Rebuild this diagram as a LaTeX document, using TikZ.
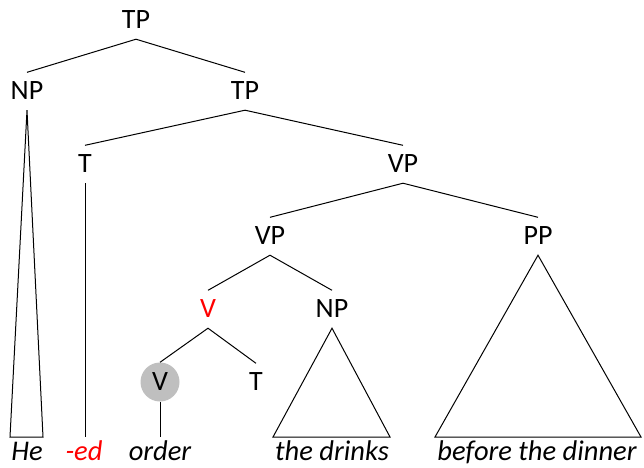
\documentclass[tikz,border=0pt]{standalone}
\usepackage{fontspec}
\setmainfont{Carlito}
\begin{document}
\begin{tikzpicture}[x=1pt,y=-1pt,
  lab/.style={inner sep=0pt,text height=26.5pt,text depth=11pt,anchor=base,font=\fontsize{28}{32}\selectfont},
  word/.style={inner sep=0pt,anchor=base,font=\fontsize{28.5}{32}\selectfont\itshape},
  edge/.style={draw=black,line width=1pt},
  redtext/.style={text=red}]
\useasboundingbox (0,0) rectangle (644,467);
% labels
\node[lab] (tp1) at (136,28) {TP};
\node[lab] (np1) at (27,99) {NP};
\node[lab] (tp2) at (245,99) {TP};
\node[lab] (t1) at (85,172) {T};
\node[lab] (vp1) at (403,172) {VP};
\node[lab] (vp2) at (270,244) {VP};
\node[lab] (pp) at (538,244) {PP};
\node[lab,redtext] (vr) at (208,317) {V};
\node[lab] (np2) at (332,317) {NP};
\node[circle,fill=black!25,minimum size=39pt,inner sep=0pt,font=\fontsize{28}{32}\selectfont] (vc) at (160,382) {V};
\node[lab] (t2) at (256,390) {T};
% leaves
\coordinate (npL) at (10,437);
\coordinate (npR) at (43,437);
\coordinate (tleaf) at (85,437);
\coordinate (vleaf) at (160,437);
\coordinate (np2L) at (273,437);
\coordinate (np2R) at (390,437);
\coordinate (ppL) at (435,437);
\coordinate (ppR) at (641,437);
% words
\node[word] (w1) at (27,460) {He};
\node[word,redtext] (w2) at (84,460) {-ed};
\node[word] (w3) at (160,460) {order};
\node[word] (w4) at (332,460) {the drinks};
\node[word] (w5) at (537,460) {before the dinner};
% edges
\draw[edge] (np1.north) -- (tp1.south) -- (tp2.north);
\draw[edge] (t1.north) -- (tp2.south) -- (vp1.north);
\draw[edge] (vp2.north) -- (vp1.south) -- (pp.north);
\draw[edge] (vr.north) -- (vp2.south) -- (np2.north);
\draw[edge] (vc.north) -- (vr.south) -- (t2.north);
\draw[edge] (np1.south) -- (npL) -- (npR) -- cycle;
\draw[edge] (t1.south) -- (tleaf);
\draw[edge] (vc.south) -- (vleaf);
\draw[edge] (np2.south) -- (np2L) -- (np2R) -- cycle;
\draw[edge] (pp.south) -- (ppL) -- (ppR) -- cycle;
\end{tikzpicture}
\end{document}
